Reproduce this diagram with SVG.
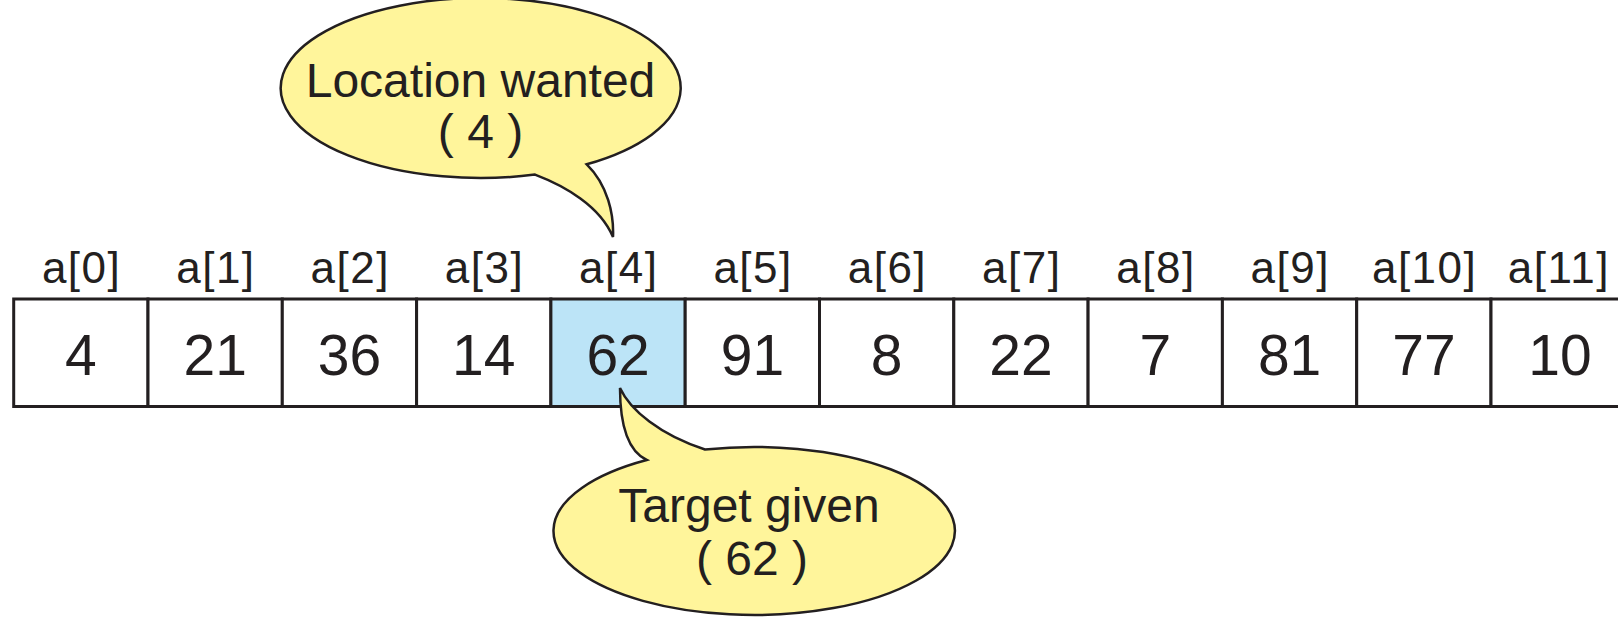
<svg xmlns="http://www.w3.org/2000/svg" width="1618" height="618" viewBox="0 0 1618 618">
  <style>
    .cell { fill: #ffffff; stroke: #231f20; stroke-width: 3; }
    .hit { fill: #bce4f7; }
    .idx { font-family: "Liberation Sans", Arial, Helvetica, sans-serif; font-size: 44px; letter-spacing: 1.5px; fill: #231f20; text-anchor: middle; }
    .val { font-family: "Liberation Sans", Arial, Helvetica, sans-serif; font-size: 57px; fill: #231f20; text-anchor: middle; }
    .bubble { fill: #fff59b; stroke: #231f20; stroke-width: 2.5; stroke-linejoin: miter; }
    .note { font-family: "Liberation Sans", Arial, Helvetica, sans-serif; font-size: 48px; fill: #231f20; text-anchor: middle; }
  </style>

  <!-- array cells: width 134.3, starting at x = 13.7 -->
  <g id="array">
    <g id="cell0"><rect class="cell" x="13.7" y="299" width="134.3" height="107.5"/><text class="idx" x="81.6" y="283">a[0]</text><text class="val" x="80.9" y="375">4</text></g>
    <g id="cell1"><rect class="cell" x="148" y="299" width="134.3" height="107.5"/><text class="idx" x="215.9" y="283">a[1]</text><text class="val" x="215.2" y="375">21</text></g>
    <g id="cell2"><rect class="cell" x="282.3" y="299" width="134.3" height="107.5"/><text class="idx" x="350.2" y="283">a[2]</text><text class="val" x="349.5" y="375">36</text></g>
    <g id="cell3"><rect class="cell" x="416.6" y="299" width="134.3" height="107.5"/><text class="idx" x="484.5" y="283">a[3]</text><text class="val" x="483.8" y="375">14</text></g>
    <g id="cell4"><rect class="cell hit" x="550.9" y="299" width="134.3" height="107.5"/><text class="idx" x="618.8" y="283">a[4]</text><text class="val" x="618.1" y="375">62</text></g>
    <g id="cell5"><rect class="cell" x="685.2" y="299" width="134.3" height="107.5"/><text class="idx" x="753.1" y="283">a[5]</text><text class="val" x="752.4" y="375">91</text></g>
    <g id="cell6"><rect class="cell" x="819.5" y="299" width="134.3" height="107.5"/><text class="idx" x="887.4" y="283">a[6]</text><text class="val" x="886.7" y="375">8</text></g>
    <g id="cell7"><rect class="cell" x="953.8" y="299" width="134.3" height="107.5"/><text class="idx" x="1021.7" y="283">a[7]</text><text class="val" x="1021" y="375">22</text></g>
    <g id="cell8"><rect class="cell" x="1088.1" y="299" width="134.3" height="107.5"/><text class="idx" x="1156" y="283">a[8]</text><text class="val" x="1155.3" y="375">7</text></g>
    <g id="cell9"><rect class="cell" x="1222.4" y="299" width="134.3" height="107.5"/><text class="idx" x="1290.3" y="283">a[9]</text><text class="val" x="1289.6" y="375">81</text></g>
    <g id="cell10"><rect class="cell" x="1356.7" y="299" width="134.3" height="107.5"/><text class="idx" x="1424.6" y="283">a[10]</text><text class="val" x="1423.9" y="375">77</text></g>
    <g id="cell11"><rect class="cell" x="1491" y="299" width="134.3" height="107.5"/><text class="idx" x="1558.9" y="283">a[11]</text><text class="val" x="1560" y="375">10</text></g>
  </g>

  <!-- speech bubble pointing down at the index label -->
  <g id="location-wanted">
    <path class="bubble" d="M 586.7,164.3 A 200 90 0 1 0 535,174.6 C 565,186 600,206 613,237 C 614,215 608,185 586.7,164.3 Z"/>
    <text class="note" x="480.5" y="96.5">Location wanted</text>
    <text class="note" x="480.5" y="148">( 4 )</text>
  </g>

  <!-- speech bubble pointing up into the highlighted cell -->
  <g id="target-given">
    <path class="bubble" d="M 705,449.5 A 200.7 84 0 1 1 646.7,460 C 630,452 620,430 620,388 C 630,410 660,435 705,449.5 Z"/>
    <text class="note" x="749" y="521.5">Target given</text>
    <text class="note" x="752" y="575">( 62 )</text>
  </g>
</svg>
